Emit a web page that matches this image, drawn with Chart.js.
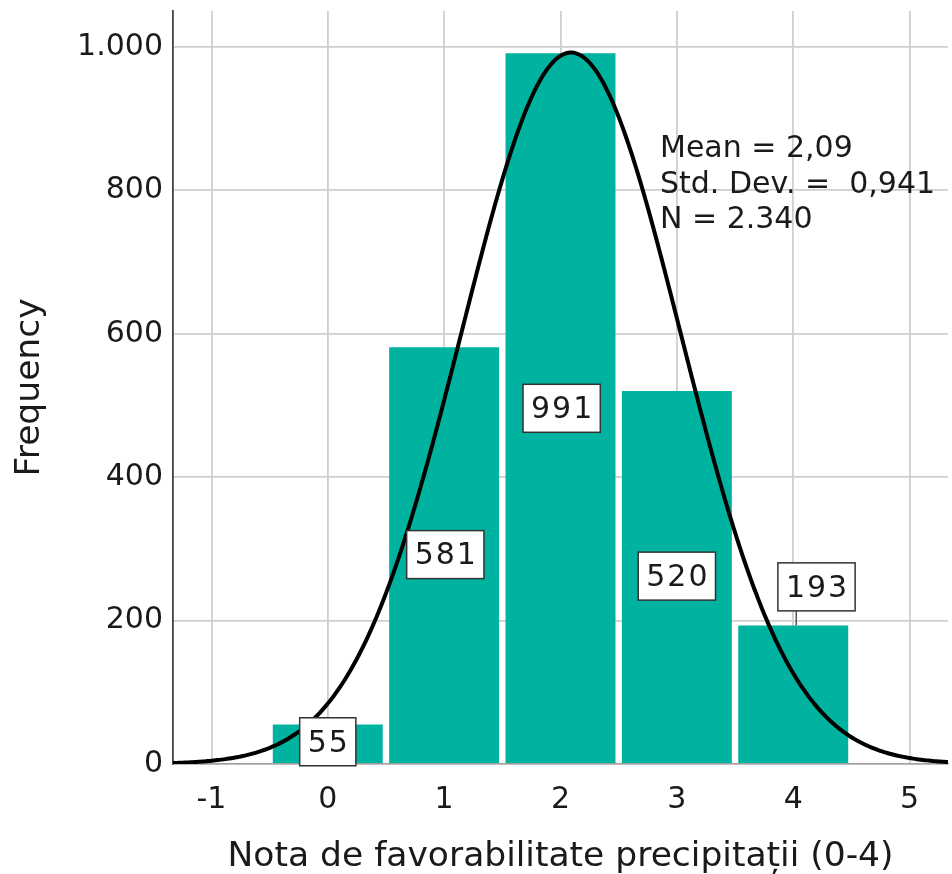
<!DOCTYPE html>
<html>
<head>
<meta charset="utf-8">
<script src="https://cdn.jsdelivr.net/npm/chart.js@4/dist/chart.umd.min.js"></script>
<style>
  html, body { margin: 0; padding: 0; background: #ffffff; }
  #wrap { width: 952px; height: 874px; }
</style>
</head>
<body>
<div id="wrap"><canvas id="hist" width="952" height="874"></canvas></div>
<script>
// Histogram of the precipitation favourability score (0-4)
const categories = [0, 1, 2, 3, 4];
const frequencies = [55, 581, 991, 520, 193];

// Summary statistics shown on the chart
const meanValue = 2.09;
const stdDev = 0.941;
const totalN = 2340;
const binWidth = 1;

const xTicks = [-1, 0, 1, 2, 3, 4, 5];
const yTicks = [0, 200, 400, 600, 800, 1000];

// Where each value label box is centred (axis units)
const labelX = [0, 1.01, 2.01, 3.0, 4.2];
const labelY = [31, 292, 496, 262, 247];

const X_MIN = -1.33, X_MAX = 5.33;
const FONT = '"DejaVu Sans", Verdana, sans-serif';
const TEXT = '#1a1a1a';

// Fitted normal curve scaled to counts per bin
function normalCount(x) {
  const z = (x - meanValue) / stdDev;
  return totalN * binWidth * Math.exp(-0.5 * z * z) / (stdDev * Math.sqrt(2 * Math.PI));
}
const curvePoints = [];
for (let i = 0; i <= 400; i++) {
  const x = X_MIN + (X_MAX - X_MIN) * i / 400;
  curvePoints.push({ x: x, y: normalCount(x) });
}

function fmtThousands(v) {
  return String(v).replace(/\B(?=(\d{3})+(?!\d))/g, '.');
}
function fmtDecimal(v, d) {
  return v.toFixed(d).replace('.', ',');
}

// Value boxes and the statistics block
const annotate = {
  id: 'annotate',
  afterDatasetsDraw(chart) {
    const ctx = chart.ctx;
    const xs = chart.scales.x, ys = chart.scales.y;
    ctx.save();
    ctx.font = '30px ' + FONT;
    ctx.textAlign = 'center';
    ctx.textBaseline = 'middle';
    if ('letterSpacing' in ctx) ctx.letterSpacing = '2px';
    frequencies.forEach((v, i) => {
      const txt = String(v);
      const cx = xs.getPixelForValue(labelX[i]);
      const cy = ys.getPixelForValue(labelY[i]);
      const w = ctx.measureText(txt).width + 14;
      const h = 48;
      // leader line when the box sits off its bar
      const barX = xs.getPixelForValue(categories[i]);
      const barTop = ys.getPixelForValue(v);
      if (cy + h / 2 < barTop) {
        ctx.strokeStyle = '#555';
        ctx.lineWidth = 1.5;
        ctx.beginPath();
        ctx.moveTo(barX + 3, cy + h / 2);
        ctx.lineTo(barX + 3, barTop);
        ctx.stroke();
      }
      ctx.fillStyle = '#ffffff';
      ctx.fillRect(cx - w / 2, cy - h / 2, w, h);
      ctx.strokeStyle = '#333';
      ctx.lineWidth = 1.5;
      ctx.strokeRect(cx - w / 2, cy - h / 2, w, h);
      ctx.fillStyle = TEXT;
      ctx.fillText(txt, cx + 1, cy + 2);
    });
    if ('letterSpacing' in ctx) ctx.letterSpacing = '0px';

    ctx.textAlign = 'left';
    ctx.textBaseline = 'alphabetic';
    ctx.font = '30px ' + FONT;
    const lines = [
      'Mean = ' + fmtDecimal(meanValue, 2),
      'Std. Dev. =  ' + fmtDecimal(stdDev, 3),
      'N = ' + fmtThousands(totalN)
    ];
    lines.forEach((t, k) => {
      ctx.fillText(t, 660, 157 + k * 35.5);
    });
    ctx.restore();
  }
};

new Chart(document.getElementById('hist'), {
  type: 'bar',
  data: {
    datasets: [
      {
        type: 'line',
        data: curvePoints,
        borderColor: '#000000',
        borderWidth: 4,
        pointRadius: 0,
        tension: 0,
        fill: false,
        order: 0
      },
      {
        type: 'bar',
        data: categories.map((c, i) => ({ x: c, y: frequencies[i] })),
        backgroundColor: '#00B3A0',
        borderWidth: 0,
        barPercentage: 0.945,
        categoryPercentage: 1,
        order: 1
      }
    ]
  },
  options: {
    responsive: false,
    devicePixelRatio: 1,
    animation: false,
    layout: { padding: { top: 11, right: 4, bottom: 0, left: 0 } },
    plugins: { legend: { display: false }, tooltip: { enabled: false } },
    scales: {
      x: {
        type: 'linear',
        min: X_MIN,
        max: X_MAX,
        offset: false,
        afterBuildTicks(scale) { scale.ticks = xTicks.map(v => ({ value: v })); },
        afterFit(scale) {
          scale.height = 110;
          scale.paddingLeft = 0;
          scale.paddingRight = 0;
        },
        ticks: {
          font: { family: FONT, size: 30 },
          color: TEXT,
          padding: 18,
          maxRotation: 0,
          autoSkip: false,
          callback: v => String(v)
        },
        grid: { color: '#cfcfcf', lineWidth: 1.8, drawTicks: false, offset: false },
        border: { color: '#a0a0a0', width: 1.5 },
        title: {
          display: true,
          text: 'Nota de favorabilitate precipitații (0-4)',
          font: { family: FONT, size: 34.5, lineHeight: 1.0 },
          color: TEXT,
          padding: { top: 0, bottom: 0 }
        }
      },
      y: {
        type: 'linear',
        min: 0,
        max: 1050,
        afterBuildTicks(scale) { scale.ticks = yTicks.map(v => ({ value: v })); },
        afterFit(scale) {
          scale.width = 173;
          scale.paddingTop = 0;
          scale.paddingBottom = 0;
        },
        ticks: {
          font: { family: FONT, size: 30 },
          color: TEXT,
          padding: 10,
          callback: v => fmtThousands(v)
        },
        grid: { color: '#cfcfcf', lineWidth: 1.8, drawTicks: false },
        border: { color: '#444444', width: 1.8 },
        title: {
          display: true,
          text: 'Frequency',
          font: { family: FONT, size: 34.5 },
          color: TEXT,
          padding: { top: 9, bottom: 0 }
        }
      }
    }
  },
  plugins: [annotate]
});
</script>
</body>
</html>
